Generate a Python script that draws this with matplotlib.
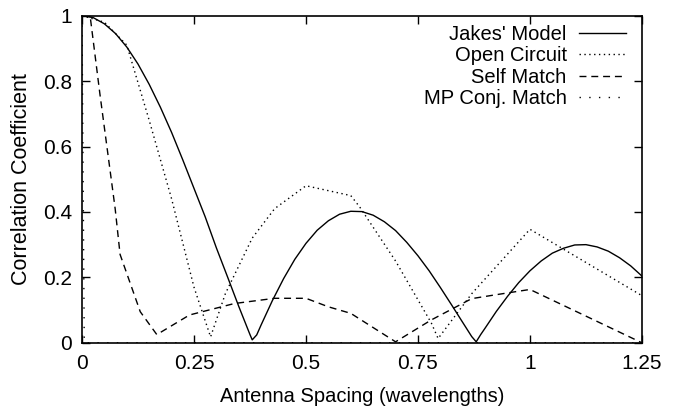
import matplotlib
matplotlib.use("Agg")
import matplotlib.pyplot as plt

# ---- data ----
jakes_d = [0, 0.025, 0.05, 0.075, 0.1, 0.125, 0.15, 0.175, 0.2, 0.225, 0.25, 0.275,
           0.3, 0.325, 0.35, 0.375, 0.38, 0.39, 0.4, 0.425, 0.45, 0.475, 0.5, 0.525,
           0.55, 0.575, 0.6, 0.625, 0.65, 0.675, 0.7, 0.725, 0.75, 0.775, 0.8, 0.825,
           0.85, 0.87, 0.88, 0.89, 0.9, 0.925, 0.95, 0.975, 1.0, 1.025, 1.05, 1.075,
           1.1, 1.125, 1.15, 1.175, 1.2, 1.225, 1.25]
jakes_v = [1.0, 0.994, 0.975, 0.945, 0.904, 0.852, 0.790, 0.720, 0.643, 0.559, 0.472, 0.385,
           0.290, 0.201, 0.111, 0.025, 0.009, 0.024, 0.055, 0.129, 0.196, 0.255, 0.304, 0.344,
           0.373, 0.393, 0.402, 0.401, 0.390, 0.370, 0.343, 0.307, 0.266, 0.220, 0.169, 0.116,
           0.062, 0.019, 0.003, 0.025, 0.045, 0.096, 0.142, 0.184, 0.220, 0.250, 0.274, 0.289,
           0.299, 0.300, 0.293, 0.280, 0.260, 0.235, 0.204]

open_d = [0, 0.05, 0.1, 0.15, 0.2, 0.25, 0.287, 0.32, 0.38, 0.43, 0.5, 0.6, 0.62,
          0.7, 0.78, 0.795, 0.87, 1.0, 1.25]
open_v = [1.0, 0.98, 0.91, 0.68, 0.44, 0.17, 0.018, 0.15, 0.32, 0.41, 0.48, 0.45, 0.415,
          0.25, 0.06, 0.013, 0.15, 0.347, 0.144]

self_d = [0, 0.018, 0.04, 0.074, 0.085, 0.13, 0.167, 0.24, 0.34, 0.43, 0.5, 0.55, 0.6,
          0.7, 0.78, 0.87, 0.92, 1.0, 1.25]
self_v = [1.0, 1.0, 0.76, 0.41, 0.27, 0.095, 0.025, 0.085, 0.12, 0.136, 0.136, 0.11, 0.09,
          0.003, 0.07, 0.135, 0.146, 0.163, 0.0]

mp_d = [0, 0.005, 0.01, 1.25]
mp_v = [1.0, 0.0, 0.0, 0.0]

labels = ["Jakes' Model", "Open Circuit", "Self Match", "MP Conj. Match"]
xticks = [0, 0.25, 0.5, 0.75, 1, 1.25]
xticklabels = ["0", "0.25", "0.5", "0.75", "1", "1.25"]
yticks = [0, 0.2, 0.4, 0.6, 0.8, 1]
yticklabels = ["0", "0.2", "0.4", "0.6", "0.8", "1"]

plt.rcParams['font.family'] = ['Liberation Sans', 'DejaVu Sans']
fig = plt.figure(figsize=(6.75, 4.12), dpi=100)
ax = fig.add_axes([0.1215, 0.168, 0.951 - 0.1215, 0.962 - 0.168])

ax.plot(jakes_d, jakes_v, color='black', lw=1.0, ls='-', label=labels[0])
ax.plot(open_d, open_v, color='black', lw=1.0, ls=(0, (1, 2.5)), label=labels[1])
ax.plot(self_d, self_v, color='black', lw=1.0, ls=(0, (5, 3.5)), label=labels[2])
ax.plot(mp_d, mp_v, color='black', lw=1.0, ls=(0, (1, 6)), label=labels[3])

ax.set_xlim(0, 1.25)
ax.set_ylim(0, 1)
ax.set_xticks(xticks)
ax.set_xticklabels(xticklabels)
ax.set_yticks(yticks)
ax.set_yticklabels(yticklabels)
ax.tick_params(direction='in', top=True, right=True, length=6, width=1,
               labelsize=15)
ax.tick_params(axis='x', pad=8)
ax.tick_params(axis='y', pad=7)
for s in ax.spines.values():
    s.set_linewidth(1.2)

ax.set_xlabel("Antenna Spacing (wavelengths)", fontsize=14.5, labelpad=10)
ax.set_ylabel("Correlation Coefficient", fontsize=15.5, labelpad=8)

leg = ax.legend(loc='upper right', frameon=False, markerfirst=False, fontsize=14.5,
                handlelength=2.35, labelspacing=0.12, borderaxespad=0.15,
                handletextpad=0.6, borderpad=0.3,
                bbox_to_anchor=(0.988, 1.0))
for t in leg.get_texts():
    t.set_ha('right')

fig.savefig("out.png", dpi=100)
